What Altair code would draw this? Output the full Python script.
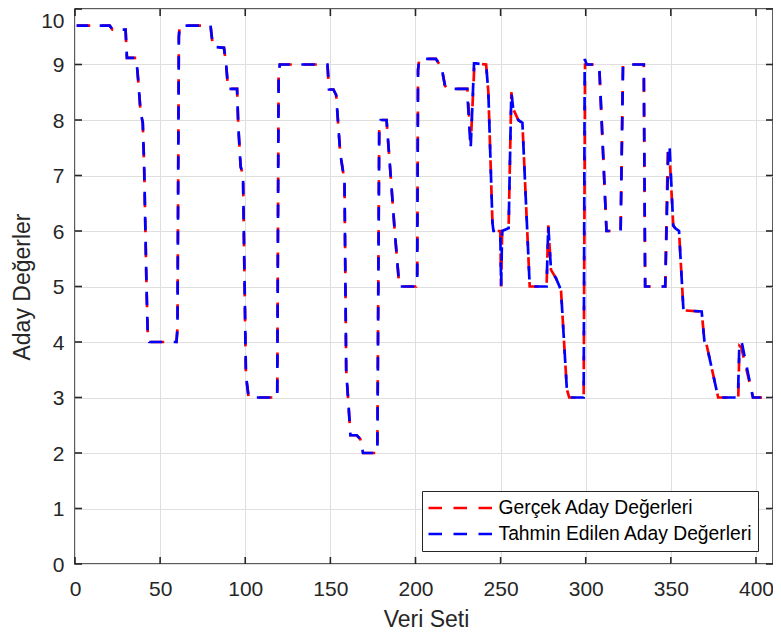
import altair as alt
import pandas as pd

# ---- data ----
series_names = ["Gerçek Aday Değerleri", "Tahmin Edilen Aday Değerleri"]
series_colors = ["#ff0000", "#0000ff"]

gercek_x = [1, 20.4, 22.0, 29.7, 30.5, 36.0, 37.3, 38.5, 39.8, 40.6, 42.0, 42.8, 43.6, 59.6, 60.2, 61.0, 61.5,
            79.6, 81.0, 87.5, 88.8, 89.9, 95.2, 95.9, 97.3, 98.7, 100.4, 102.0, 118.8, 119.6, 120.3, 148.3,
            149.2, 151.8, 153.4, 155.8, 158.3, 159.3, 161.0, 161.8, 165.5, 167.6, 169.2, 177.6, 178.7, 179.6,
            183.0, 185.1, 187.8, 190.5, 200.4, 201.0, 201.5, 202.2, 212.0, 215.3, 217.3, 218.6, 230.5, 232.5,
            234.6, 235.5, 241.5, 242.8, 245.2, 245.8, 249.8, 250.3, 250.9, 254.7, 256.3, 257.4, 260.4, 262.8,
            267.1, 277.0, 278.0, 279.6, 282.5, 284.6, 285.5, 288.9, 290.3, 298.8, 299.6, 307.0, 308.0, 312.2,
            320.5, 321.9, 334.1, 334.9, 346.7, 348.2, 349.2, 351.4, 352.6, 354.8, 357.4, 368.1, 369.7, 371.0,
            377.8, 389.6, 390.3, 391.4, 398.3, 410]
gercek_y = [9.7, 9.7, 9.63, 9.63, 9.12, 9.12, 8.65, 8.15, 7.95, 7.2, 5.0, 4.05, 4.0, 4.0, 4.25, 9.5, 9.7,
            9.7, 9.32, 9.3, 9.0, 8.56, 8.56, 7.9, 7.16, 7.0, 3.4, 3.0, 3.0, 8.8, 9.0, 9.0,
            8.55, 8.55, 8.45, 7.4, 6.9, 3.5, 2.7, 2.32, 2.32, 2.25, 2.0, 2.0, 7.86, 8.0,
            8.0, 7.13, 6.0, 5.0, 5.0, 5.1, 8.9, 9.1, 9.1, 8.95, 8.62, 8.56, 8.56, 7.6,
            9.0, 9.02, 9.0, 8.5, 6.15, 6.0, 6.0, 5.0, 6.0, 6.05, 8.5, 8.2, 8.0, 7.95,
            5.0, 5.0, 6.1, 5.3, 5.15, 5.0, 4.92, 3.15, 3.0, 3.0, 9.0, 9.0, 8.93, 6.0,
            6.0, 9.0, 9.0, 5.0, 5.0, 7.4, 7.4, 6.1, 6.05, 6.0, 4.57, 4.55, 4.02, 3.95,
            3.0, 3.0, 3.93, 3.9, 3.0, 3.0]

tahmin_x = [1, 20.4, 22.0, 29.7, 30.5, 36.0, 37.3, 38.5, 39.8, 40.6, 42.0, 42.8, 43.6, 59.6, 60.2, 61.0, 61.5,
            79.6, 81.0, 87.5, 88.8, 89.9, 95.2, 95.9, 97.3, 98.7, 100.4, 102.0, 118.8, 119.6, 120.3, 148.3,
            149.2, 151.8, 153.4, 155.8, 158.3, 159.3, 161.0, 161.8, 165.5, 167.6, 169.2, 177.6, 178.7, 179.6,
            183.0, 185.1, 187.8, 190.5, 200.4, 201.0, 201.5, 202.2, 212.0, 215.3, 217.3, 218.6, 230.3, 232.4,
            234.4, 235.5, 241.5, 242.8, 245.2, 245.8, 249.8, 250.3, 250.9, 254.7, 256.3, 257.4, 260.4, 262.8,
            267.1, 277.0, 278.0, 279.6, 282.5, 284.6, 285.5, 288.9, 290.3, 298.8, 299.4, 300.6, 307.0, 308.0,
            312.2, 320.5, 321.9, 334.1, 334.9, 346.7, 348.6, 349.3, 351.4, 352.6, 354.8, 357.4, 368.1, 369.7,
            371.0, 377.8, 389.4, 390.2, 391.2, 391.8, 398.2, 410]
tahmin_y = [9.7, 9.7, 9.63, 9.63, 9.12, 9.12, 8.65, 8.15, 7.95, 7.2, 5.0, 4.05, 4.0, 4.0, 4.25, 9.5, 9.7,
            9.7, 9.32, 9.3, 9.0, 8.56, 8.56, 7.9, 7.16, 7.0, 3.4, 3.0, 3.0, 8.8, 9.0, 9.0,
            8.55, 8.55, 8.45, 7.4, 6.9, 3.5, 2.7, 2.32, 2.32, 2.25, 2.0, 2.0, 7.86, 8.0,
            8.0, 7.13, 6.0, 5.0, 5.0, 5.1, 8.9, 9.1, 9.1, 8.95, 8.62, 8.56, 8.56, 7.48,
            9.02, 9.02, 9.0, 8.5, 6.15, 6.0, 6.0, 5.0, 6.0, 6.05, 8.5, 8.2, 8.0, 7.95,
            5.0, 5.0, 6.1, 5.3, 5.15, 5.0, 4.92, 3.15, 3.0, 3.0, 9.1, 9.0, 9.0, 8.93,
            6.0, 6.0, 9.0, 9.0, 5.0, 5.0, 7.56, 7.5, 6.1, 6.05, 6.0, 4.57, 4.55, 4.02,
            3.95, 3.0, 3.0, 3.9, 4.02, 3.97, 3.0, 3.0]

x_ticks = [0, 50, 100, 150, 200, 250, 300, 350, 400]
y_ticks = [0, 1, 2, 3, 4, 5, 6, 7, 8, 9, 10]
x_domain = [0, 410]
y_domain = [0, 10]

# ---- layout / style ----
W, H = 698, 555
FONT = "Liberation Sans"
AX = "#262626"
TICK_LEN = 7

df_g = pd.DataFrame({"x": gercek_x, "y": gercek_y, "i": range(len(gercek_x)), "seri": series_names[0]})
df_t = pd.DataFrame({"x": tahmin_x, "y": tahmin_y, "i": range(len(tahmin_x)), "seri": series_names[1]})
df_xt = pd.DataFrame({"x": x_ticks})
df_yt = pd.DataFrame({"y": y_ticks})

xs = alt.Scale(domain=x_domain, nice=False, zero=False)
ys = alt.Scale(domain=y_domain, nice=False, zero=False)

x_axis = alt.Axis(
    values=x_ticks, grid=True, gridColor="#dfdfdf", gridWidth=1, domain=False, ticks=False, tickSize=0,
    labelFont=FONT, labelFontSize=21, labelColor=AX, labelBaseline="alphabetic", labelPadding=31,
    labelFlush=False, labelOverlap=False,
    title="Veri Seti", titleFont=FONT, titleFontSize=23, titleFontWeight="normal",
    titleColor=AX, titleBaseline="alphabetic", titleX=351, titleY=62, titleAlign="center",
)
y_axis = alt.Axis(
    values=y_ticks, grid=True, gridColor="#dfdfdf", gridWidth=1, domain=False, ticks=False, tickSize=0,
    labelFont=FONT, labelFontSize=21, labelColor=AX, labelPadding=11, labelFlush=False, labelOverlap=False,
    labelBaseline={"condition": {"test": "datum.value >= 10", "value": "top"}, "value": "middle"},
    labelOffset=1,
    title="Aday Değerler", titleFont=FONT, titleFontSize=23, titleFontWeight="normal", titleColor=AX,
    titleAngle=270, titleBaseline="alphabetic", titleAlign="center", titleX=-45.7, titleY=H / 2,
)

color = alt.Color(
    "seri:N",
    scale=alt.Scale(domain=series_names, range=series_colors),
    legend=alt.Legend(
        title=None, orient="none", legendX=347, legendY=482, direction="vertical",
        symbolType="stroke", symbolSize=4225, symbolStrokeWidth=2.7, symbolDash=[13.5, 11.5],
        labelFont=FONT, labelFontSize=19.3, labelColor="#000000", labelLimit=600, labelOffset=3.5,
        clipHeight=24, rowPadding=2, padding=5, fillColor="#ffffff", strokeColor=AX, cornerRadius=0,
    ),
)

X = alt.X("x:Q", scale=xs, axis=x_axis)
Y = alt.Y("y:Q", scale=ys, axis=y_axis)

red = alt.Chart(df_g).mark_line(strokeWidth=2.7, strokeDash=[13.5, 11.5], strokeCap="butt").encode(
    x=X, y=Y, color=color, order=alt.Order("i:Q"),
)
blue = alt.Chart(df_t).mark_line(strokeWidth=2.7, strokeDash=[13.5, 11.5], strokeDashOffset=2,
                                 strokeCap="butt").encode(
    x=X, y=Y, color=color, order=alt.Order("i:Q"),
)

tick_style = dict(color=AX, strokeWidth=1.6, opacity=1)
bottom_ticks = alt.Chart(df_xt).mark_rule(**tick_style).encode(
    x=X, y=alt.value(H), y2=alt.value(H - TICK_LEN))
top_ticks = alt.Chart(df_xt).mark_rule(**tick_style).encode(
    x=X, y=alt.value(0), y2=alt.value(TICK_LEN))
left_ticks = alt.Chart(df_yt).mark_rule(**tick_style).encode(
    y=Y, x=alt.value(0), x2=alt.value(TICK_LEN))
right_ticks = alt.Chart(df_yt).mark_rule(**tick_style).encode(
    y=Y, x=alt.value(W), x2=alt.value(W - TICK_LEN))

chart = alt.layer(red, blue, bottom_ticks, top_ticks, left_ticks, right_ticks).properties(
    width=W, height=H,
    autosize=alt.AutoSizeParams(type="none"),
    padding={"left": 67, "top": 1, "right": 0, "bottom": 69},
    background="#ffffff",
).configure_view(stroke=AX, strokeWidth=1.5)

chart.save("out.html", embed_options={"renderer": "svg", "actions": False})
